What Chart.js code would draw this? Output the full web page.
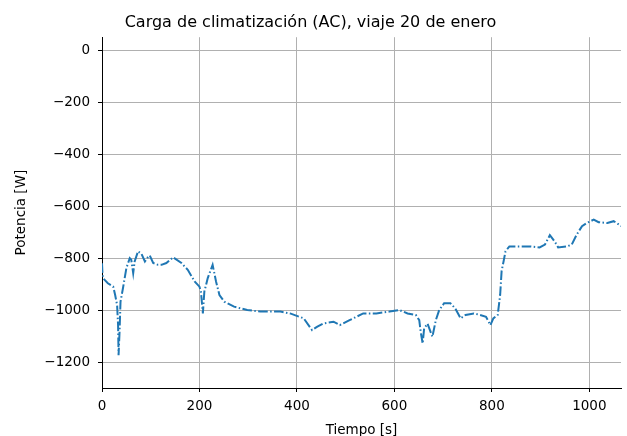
<!DOCTYPE html>
<html>
<head>
<meta charset="utf-8">
<script src="https://cdn.jsdelivr.net/npm/chart.js@4.4.0/dist/chart.umd.min.js"></script>
<style>
  html, body { margin: 0; padding: 0; background: #fff; }
  #wrap { width: 627px; height: 436px; }
</style>
</head>
<body>
<div id="wrap"><canvas id="acChart" width="627" height="436"></canvas></div>
<script>
const chartTitle = "Carga de climatización (AC), viaje 20 de enero";
const xLabel = "Tiempo [s]";
const yLabel = "Potencia [W]";

const xTicks = [0, 200, 400, 600, 800, 1000];
const yTicks = [0, -200, -400, -600, -800, -1000, -1200];

// tiempo [s]
const tiempo = [
    0, 1, 2, 12, 23, 27, 31, 33, 34, 36, 38, 43, 50, 57, 60, 64, 67, 74, 81, 88, 95, 98, 105, 115,
    122, 132, 146, 163, 176, 190, 200, 203, 207, 210, 217, 227, 234, 241, 251, 271, 298, 325, 366,
    386, 414, 431, 441, 454, 475, 488, 508, 536, 563, 590, 610, 627, 644, 651, 654, 658, 661, 668,
    678, 685, 692, 702, 715, 725, 736, 746, 763, 776, 788, 797, 803, 812, 817, 820, 824, 828, 836,
    857, 878, 898, 909, 916, 919, 926, 933, 936, 954, 964, 974, 985, 995, 1009, 1019, 1037, 1050,
    1061, 1065
];

// potencia [W]
const potencia = [
    -820, -860, -877, -897, -910, -942, -981, -1058, -1174, -1084, -968, -916, -839, -800, -806, -858,
    -813, -774, -784, -813, -794, -790, -819, -826,
    -826, -819, -797, -819, -845, -890, -910, -929, -1013, -929, -877, -826, -890, -942, -968, -987,
    -1000, -1006, -1006,
    -1013, -1032, -1077, -1065, -1052, -1045, -1058, -1039, -1013, -1013, -1006, -1000, -1013, -1019,
    -1039, -1084, -1129, -1071, -1052,
    -1103, -1039, -1000, -974, -974, -994, -1032, -1019, -1013, -1019, -1026, -1058, -1032, -1019,
    -942, -850, -813, -774, -755,
    -755, -755, -759, -748, -723, -712, -729, -748, -759, -755, -748, -710, -677, -665, -652, -662,
    -665, -658, -671, -677
];

const fontFam = "'DejaVu Sans', sans-serif";
const fixMinus = v => String(v).replace('-', '\u2212');

const ctx = document.getElementById("acChart").getContext("2d");
new Chart(ctx, {
    type: 'line',
    data: {
        datasets: [{
            label: 'AC',
            data: tiempo.map((t, i) => ({ x: t, y: potencia[i] })),
            borderColor: '#1f77b4',
            borderWidth: 2,
            borderDash: [9.6, 2.4, 1.5, 2.4],
            pointRadius: 0,
            tension: 0,
            fill: false
        }]
    },
    options: {
        responsive: false,
        animation: false,
        layout: { padding: { left: 0, right: 6, top: 0, bottom: 0 } },
        plugins: {
            legend: { display: false },
            tooltip: { enabled: false },
            title: {
                display: true, text: chartTitle, color: '#000',
                font: { family: fontFam, size: 16, weight: 'normal', lineHeight: 1.2 },
                padding: { top: 13, bottom: 5 }
            }
        },
        scales: {
            x: {
                type: 'linear', min: 0, max: 1065,
                afterBuildTicks: s => { s.ticks = xTicks.map(v => ({ value: v })); },
                afterFit: s => { s.height = 48; },
                border: { color: '#000', width: 1 },
                grid: { color: '#b0b0b0', lineWidth: 1, tickColor: '#000', tickLength: 4 },
                ticks: { color: '#000', font: { family: fontFam, size: 13.5 }, padding: 6, maxRotation: 0, callback: v => fixMinus(v) },
                title: { display: true, text: xLabel, color: '#000', font: { family: fontFam, size: 13.5 }, padding: { top: 0, bottom: -3 } }
            },
            y: {
                type: 'linear', min: -1300, max: 50,
                afterBuildTicks: s => { s.ticks = yTicks.map(v => ({ value: v })); },
                afterFit: s => { s.width = 102; },
                border: { color: '#000', width: 1 },
                grid: { color: '#b0b0b0', lineWidth: 1, tickColor: '#000', tickLength: 4 },
                ticks: { color: '#000', font: { family: fontFam, size: 13.5 }, padding: 8, callback: v => fixMinus(v) },
                title: { display: true, text: yLabel, color: '#000', font: { family: fontFam, size: 13.5 }, padding: { top: 13, bottom: 4 } }
            }
        }
    }
});
</script>
</body>
</html>
